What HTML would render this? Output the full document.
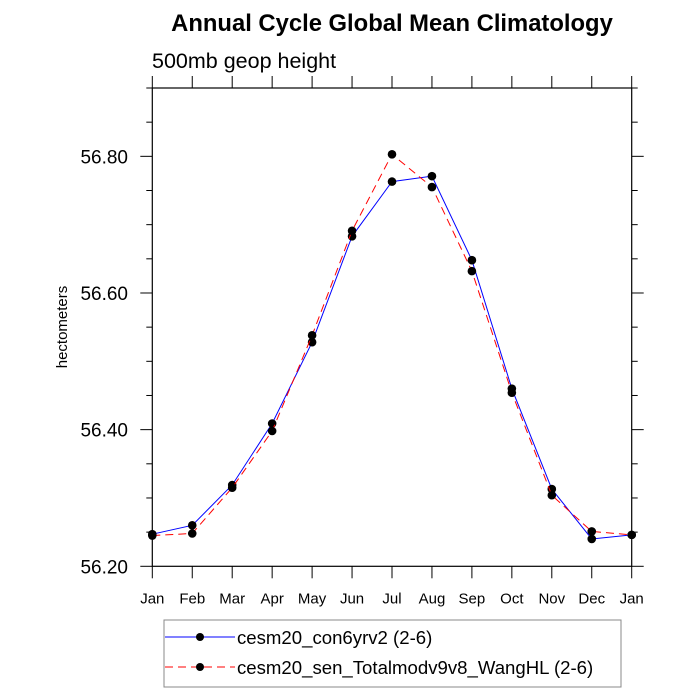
<!DOCTYPE html>
<html><head><meta charset="utf-8"><style>
html,body{margin:0;padding:0;background:#fff;}
svg{display:block;font-family:"Liberation Sans",sans-serif;}
</style></head><body>
<svg id="chart" width="700" height="700">
<text x="392" y="31" text-anchor="middle" font-size="23.8" font-weight="bold">Annual Cycle Global Mean Climatology</text>
<text x="152" y="68" font-size="21.5">500mb geop height</text>
<text transform="translate(67,327) rotate(-90)" text-anchor="middle" font-size="15">hectometers</text>
<g id="axes"></g>
<g id="series"></g>
<g>
<rect x="164" y="620" width="457" height="67" fill="#fff" stroke="#888" stroke-width="1"/>
<g>
<line x1="165" y1="637" x2="235" y2="637" stroke="blue" stroke-width="1"/>
<circle cx="200" cy="637" r="4" fill="#000"/>
<text x="237" y="644" font-size="18.6">cesm20_con6yrv2 (2-6)</text>
</g>
<g>
<line x1="165" y1="667" x2="235" y2="667" stroke="red" stroke-width="1" stroke-dasharray="8,5"/>
<circle cx="200" cy="667" r="4" fill="#000"/>
<text x="237" y="674" font-size="18.6">cesm20_sen_Totalmodv9v8_WangHL (2-6)</text>
</g>
</g>
</svg>
<script>
const months = ["Jan","Feb","Mar","Apr","May","Jun","Jul","Aug","Sep","Oct","Nov","Dec","Jan"];
const controlValues = [56.247,56.260,56.319,56.409,56.528,56.683,56.763,56.771,56.648,56.460,56.313,56.240,56.246];
const sensValues = [56.245,56.248,56.315,56.398,56.538,56.691,56.803,56.755,56.632,56.454,56.304,56.251,56.246];
const yTicks = [56.20,56.40,56.60,56.80];
const yMin = 56.2, yMax = 56.9;
const L=152.3, R=631.7, T=88, B=566.3;
const NS="http://www.w3.org/2000/svg";
const xS = i => L + i*(R-L)/(months.length-1);
const yS = v => B - (v-yMin)/(yMax-yMin)*(B-T);
function mk(tag, attrs, parent){const e=document.createElementNS(NS,tag);for(const k in attrs)e.setAttribute(k,attrs[k]);parent.appendChild(e);return e;}
const ax=document.getElementById('axes');
const frame=mk('rect',{x:L,y:T,width:R-L,height:B-T,fill:'none',stroke:'#000','stroke-width':1.2},ax);


months.forEach((m,i)=>{
  const x=xS(i);
  mk('line',{x1:x,y1:B,x2:x,y2:B+12,stroke:'#000'},ax);
  mk('line',{x1:x,y1:T,x2:x,y2:T-12,stroke:'#000'},ax);
  const t=mk('text',{x:x,y:B+37,'text-anchor':'middle','font-size':15},ax);
  t.textContent=m;
  
  
});
for(let k=0;k<=14;k++){
  const v=yMin+k*0.05; const y=yS(v); const major=(k%4===0);
  const len=major?12:6;
  mk('line',{x1:L-len,y1:y,x2:L,y2:y,stroke:'#000'},ax);
  mk('line',{x1:R,y1:y,x2:R+len,y2:y,stroke:'#000'},ax);
}
yTicks.forEach(v=>{
  const t=mk('text',{x:128,y:yS(v)+7,'text-anchor':'end','font-size':19},ax);
  t.textContent=v.toFixed(2);
  
  
});
const sg=document.getElementById('series');
function drawSeries(vals,color,dash,name){
  const g=mk('g',{},sg);
  
  
  const pts=vals.map((v,i)=>xS(i)+','+yS(v)).join(' ');
  const a={points:pts,fill:'none',stroke:color,'stroke-width':1};
  if(dash)a['stroke-dasharray']=dash;
  mk('polyline',a,g);
  vals.forEach((v,i)=>{
    const c=mk('circle',{cx:xS(i),cy:yS(v),r:4.3,fill:'#000'},g);
    
    
  });
}
drawSeries(controlValues,'blue',null,'series-control');
drawSeries(sensValues,'red','8,5','series-sensitivity');
</script>
</body></html>
